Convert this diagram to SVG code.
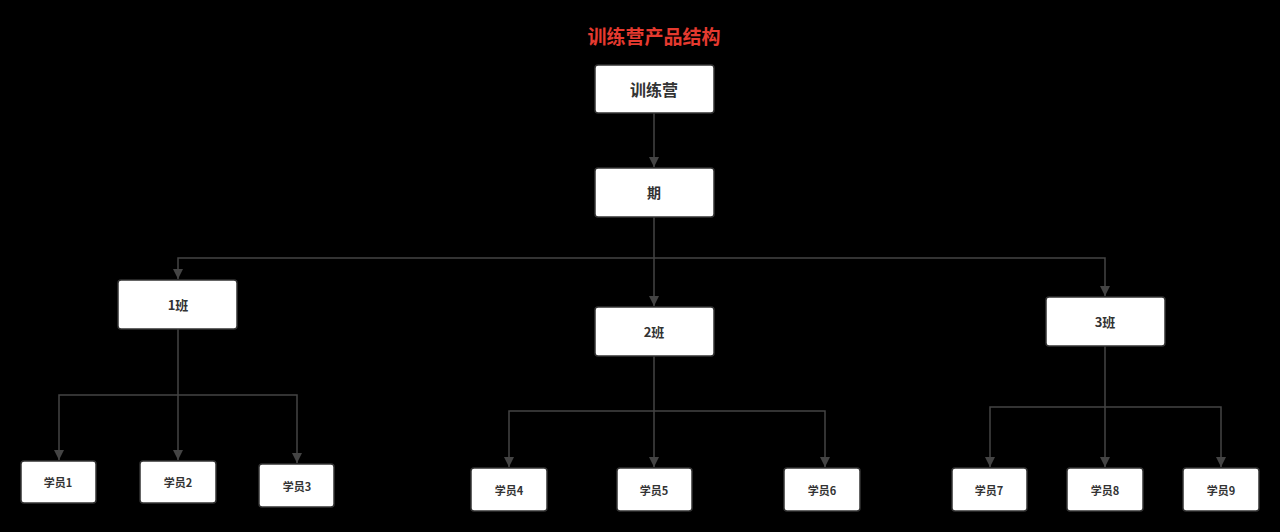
<svg xmlns="http://www.w3.org/2000/svg" width="1280" height="532" viewBox="0 0 1280 532">
<style>
.n{fill:#fff;stroke:#333;stroke-width:1.5}
.t{font-family:"Noto Sans CJK SC",sans-serif;font-weight:bold;fill:#333;text-anchor:middle;dominant-baseline:central}
.c{fill:none;stroke:#444;stroke-width:1.5}
</style>
<defs><marker id="a" viewBox="0 0 10 10" refX="10" refY="5" markerWidth="7" markerHeight="9" markerUnits="userSpaceOnUse" orient="auto"><path d="M0,0L10,5L0,10z" fill="#444"/></marker>
<marker id="b" viewBox="0 0 10 10" refX="10" refY="5" markerWidth="10" markerHeight="12" markerUnits="userSpaceOnUse" orient="auto"><path d="M0,0L10,5L0,10z" fill="#444"/></marker></defs>
<rect width="1280" height="532" fill="#000"/>
<text x="654" y="35" class="t" style="fill:#e53a2f;font-size:19px">训练营产品结构</text>
<g id="connectors">
<path class="c" marker-end="url(#b)" d="M654,113V167"/>
<path class="c" marker-end="url(#b)" d="M654,217V306"/>
<path class="c" marker-end="url(#b)" d="M654,258H178V279"/>
<path class="c" marker-end="url(#b)" d="M654,258H1105V296"/>
<path class="c" marker-end="url(#b)" d="M178,329V460"/>
<path class="c" marker-end="url(#b)" d="M178,395H59V460"/>
<path class="c" marker-end="url(#b)" d="M178,395H297V463"/>
<path class="c" marker-end="url(#b)" d="M654,356V467"/>
<path class="c" marker-end="url(#b)" d="M654,411H509V467"/>
<path class="c" marker-end="url(#b)" d="M654,411H825V467"/>
<path class="c" marker-end="url(#b)" d="M1105,346V467"/>
<path class="c" marker-end="url(#b)" d="M1105,407H990V467"/>
<path class="c" marker-end="url(#b)" d="M1105,407H1221V467"/>
</g>
<g id="n0"><rect class="n" x="595" y="65" width="119" height="48" rx="3"/><text class="t" x="654" y="89" font-size="16">训练营</text></g>
<g id="n1"><rect class="n" x="595" y="168" width="119" height="49" rx="3"/><text class="t" x="654" y="192" font-size="14">期</text></g>
<g id="c1"><rect class="n" x="118" y="280" width="119" height="49" rx="3"/><text class="t" x="178" y="304" font-size="13">1班</text></g>
<g id="c2"><rect class="n" x="595" y="307" width="119" height="49" rx="3"/><text class="t" x="654" y="331" font-size="13">2班</text></g>
<g id="c3"><rect class="n" x="1046" y="297" width="119" height="49" rx="3"/><text class="t" x="1105" y="321" font-size="13">3班</text></g>
<g id="s1"><rect class="n" x="21" y="461" width="75" height="42" rx="3"/><text class="t" x="58" y="482" font-size="11">学员1</text></g>
<g id="s2"><rect class="n" x="140" y="461" width="76" height="42" rx="3"/><text class="t" x="178" y="482" font-size="11">学员2</text></g>
<g id="s3"><rect class="n" x="259" y="464" width="75" height="43" rx="3"/><text class="t" x="297" y="486" font-size="11">学员3</text></g>
<g id="s4"><rect class="n" x="471" y="468" width="76" height="43" rx="3"/><text class="t" x="509" y="490" font-size="11">学员4</text></g>
<g id="s5"><rect class="n" x="617" y="468" width="75" height="43" rx="3"/><text class="t" x="654" y="490" font-size="11">学员5</text></g>
<g id="s6"><rect class="n" x="784" y="468" width="76" height="43" rx="3"/><text class="t" x="822" y="490" font-size="11">学员6</text></g>
<g id="s7"><rect class="n" x="952" y="468" width="75" height="43" rx="3"/><text class="t" x="989" y="490" font-size="11">学员7</text></g>
<g id="s8"><rect class="n" x="1067" y="468" width="76" height="43" rx="3"/><text class="t" x="1105" y="490" font-size="11">学员8</text></g>
<g id="s9"><rect class="n" x="1183" y="468" width="76" height="43" rx="3"/><text class="t" x="1221" y="490" font-size="11">学员9</text></g>
</svg>
